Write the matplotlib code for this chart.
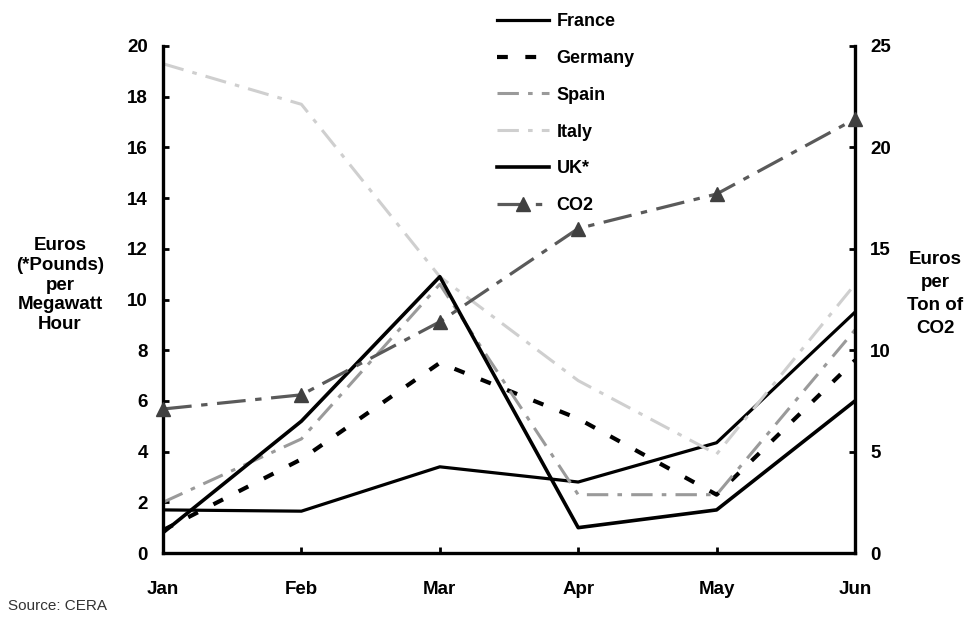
import numpy as np
import matplotlib
matplotlib.use("Agg")
import matplotlib.pyplot as plt
from matplotlib.legend_handler import HandlerLine2D

months = ["Jan", "Feb", "Mar", "Apr", "May", "Jun"]
france = [1.7, 1.65, 3.4, 2.8, 4.35, 9.5]
germany = [0.9, 3.7, 7.5, 5.3, 2.3, 7.6]
spain = [2.0, 4.5, 10.6, 2.3, 2.3, 8.8]
italy = [19.3, 17.7, 10.9, 6.8, 3.9, 10.6]
uk = [0.8, 5.2, 10.9, 1.0, 1.7, 6.0]
co2 = [7.1, 7.8, 11.4, 16.0, 17.7, 21.4]

left_ticks = [0, 2, 4, 6, 8, 10, 12, 14, 16, 18, 20]
right_ticks = [0, 5, 10, 15, 20, 25]

plt.rcParams['font.family'] = ['Liberation Sans', 'DejaVu Sans']
plt.rcParams['font.weight'] = 'bold'

fig = plt.figure(figsize=(9.78, 6.2), dpi=100)
ax = fig.add_axes([163/978, 1-553/620, (855-163)/978, (553-46)/620])
ax2 = ax.twinx()

x = np.arange(len(months))
l_fr, = ax.plot(x, france, color='black', lw=2.3, solid_joinstyle='round', label='France')
l_de, = ax.plot(x, germany, color='black', lw=3, linestyle=(0, (2.6, 4.2)), label='Germany')
l_es, = ax.plot(x, spain, color='#9a9a9a', lw=2.2, linestyle=(0, (7, 3, 1.5, 3)), label='Spain')
l_it, = ax.plot(x, italy, color='#cfcfcf', lw=2.2, linestyle=(0, (7, 3, 1.5, 3)), label='Italy')
l_uk, = ax.plot(x, uk, color='black', lw=2.6, solid_joinstyle='round', label='UK*')
l_co, = ax2.plot(x, co2, color='#5a5a5a', lw=2.3, linestyle=(0, (9, 3, 2, 3)),
                 marker='^', markersize=10, markerfacecolor='#404040',
                 markeredgecolor='#404040', label='CO2', clip_on=False, zorder=5)

ax.set_xlim(0, 5)
ax.set_ylim(0, 20)
ax2.set_ylim(0, 25)
ax.set_xticks(x)
ax.set_xticklabels(months)
ax.set_yticks(left_ticks)
ax2.set_yticks(right_ticks)

for a in (ax, ax2):
    a.spines['top'].set_visible(False)
    for s in ('left', 'right', 'bottom'):
        a.spines[s].set_linewidth(2.4)
        a.spines[s].set_color('black')
    a.patch.set_visible(False)

ax.spines['right'].set_visible(False)
ax2.spines['left'].set_visible(False)
ax2.spines['bottom'].set_visible(False)

ax.tick_params(axis='y', direction='in', length=4, width=2, pad=11, labelsize=13.5)
ax.tick_params(axis='x', direction='in', length=4, width=2, pad=20, labelsize=13.5)
ax2.tick_params(axis='y', direction='in', length=4, width=2, pad=11, labelsize=13.5)
for lab in ax.get_xticklabels() + ax.get_yticklabels() + ax2.get_yticklabels():
    lab.set_fontweight('bold')


class EndMarkerHandler(HandlerLine2D):
    def get_xdata(self, legend, xdescent, ydescent, width, height, fontsize):
        xdata = [-xdescent, -xdescent + width]
        return xdata, [-xdescent + width - 6]


handles = [l_fr, l_de, l_es, l_it, l_uk, l_co]
leg = fig.legend(handles, [h.get_label() for h in handles],
                 loc='upper left', bbox_to_anchor=(497/978, 1-13/620),
                 frameon=False, borderpad=0, borderaxespad=0,
                 prop={'family': 'Liberation Sans', 'weight': 'bold', 'size': 13},
                 labelspacing=1.1, handlelength=2.9, handletextpad=0.4,
                 numpoints=1, handler_map={l_co: EndMarkerHandler()})

fig.text(60/978, 1-285/620, "Euros\n(*Pounds)\nper\nMegawatt\nHour",
         ha='center', va='center', multialignment='center',
         fontsize=13.5, fontweight='bold', linespacing=1.2)
fig.text(935/978, 1-294/620, "Euros\nper\nTon of\nCO2",
         ha='center', va='center', multialignment='center',
         fontsize=13.5, fontweight='bold', linespacing=1.45)
fig.text(8/978, 1-606/620, "Source: CERA", ha='left', va='center',
         fontsize=11, fontweight='normal', color='#333333')

fig.savefig('out.png', dpi=100)
